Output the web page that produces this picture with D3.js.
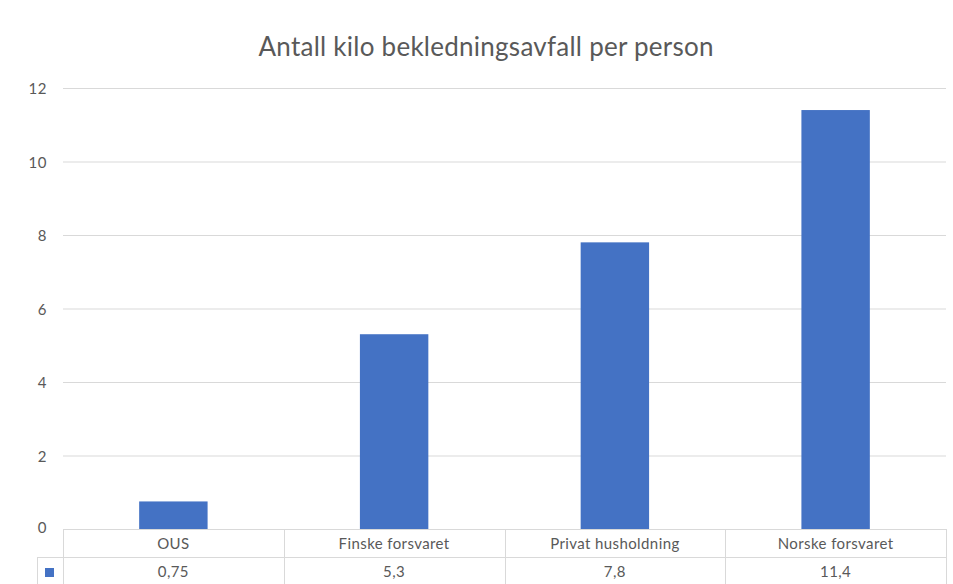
<!DOCTYPE html>
<html>
<head>
<meta charset="utf-8">
<script src="https://cdn.jsdelivr.net/npm/d3@7"></script>
<style>
  body { margin: 0; background: #fff; }
  svg text { font-family: Lato, "Open Sans", sans-serif; fill: #595959; }
</style>
</head>
<body>
<div id="chart"></div>
<script>
const categories = ["OUS", "Finske forsvaret", "Privat husholdning", "Norske forsvaret"];
const values = [0.75, 5.3, 7.8, 11.4];
const valueLabels = ["0,75", "5,3", "7,8", "11,4"];
const yTicks = [0, 2, 4, 6, 8, 10, 12];
const title = "Antall kilo bekledningsavfall per person";

const width = 953, height = 584;
const plot = { left: 63, right: 946, top: 88, bottom: 529 };
const rowH = 28;

const svg = d3.select("#chart")
    .append("svg")
    .attr("width", width)
    .attr("height", height);

svg.append("text")
    .attr("x", 486)
    .attr("y", 46)
    .attr("text-anchor", "middle")
    .attr("dominant-baseline", "central")
    .attr("textLength", 455)
    .style("font-size", "26px")
    .text(title);

const x = d3.scaleBand()
    .domain(categories)
    .range([plot.left, plot.right])
    .paddingInner(0.69)
    .paddingOuter(0.345);

const col = d3.scaleBand()
    .domain(categories)
    .range([plot.left, plot.right]);

const y = d3.scaleLinear()
    .domain([0, 12])
    .range([plot.bottom, plot.top]);

// gridlines
svg.append("g")
    .selectAll("line")
    .data(yTicks.filter(d => d > 0))
    .join("line")
    .attr("x1", plot.left)
    .attr("x2", plot.right)
    .attr("y1", d => y(d) + 0.5)
    .attr("y2", d => y(d) + 0.5)
    .attr("stroke", "#d9d9d9")
    .attr("stroke-width", 1);

// y tick labels
svg.append("g")
    .selectAll("text")
    .data(yTicks)
    .join("text")
    .attr("x", 47)
    .attr("y", d => y(d) - (d === 0 ? 2 : 0))
    .attr("text-anchor", "end")
    .attr("dominant-baseline", "central")
    .style("font-size", "15px")
    .style("letter-spacing", "0.5px")
    .text(d => d);

// bars
svg.append("g")
    .selectAll("rect")
    .data(values)
    .join("rect")
    .attr("x", (d, i) => x(categories[i]))
    .attr("width", x.bandwidth())
    .attr("y", d => y(d))
    .attr("height", d => y(0) - y(d))
    .attr("fill", "#4472c4");

// data table
const table = svg.append("g")
    .attr("stroke", "#d9d9d9")
    .attr("stroke-width", 1)
    .attr("fill", "none");

table.append("line")
    .attr("x1", plot.left).attr("x2", plot.right)
    .attr("y1", plot.bottom + 0.5).attr("y2", plot.bottom + 0.5);
table.append("line")
    .attr("x1", 37).attr("x2", plot.right)
    .attr("y1", plot.bottom + rowH + 0.5).attr("y2", plot.bottom + rowH + 0.5);
table.append("line")
    .attr("x1", 37.5).attr("x2", 37.5)
    .attr("y1", plot.bottom + rowH).attr("y2", height);

const seps = categories.map(c => col(c)).concat([plot.right]);
table.selectAll("line.sep")
    .data(seps)
    .join("line")
    .attr("class", "sep")
    .attr("x1", d => Math.round(d) + 0.5)
    .attr("x2", d => Math.round(d) + 0.5)
    .attr("y1", plot.bottom)
    .attr("y2", height);

svg.append("g")
    .selectAll("text")
    .data(categories)
    .join("text")
    .attr("x", d => col(d) + col.bandwidth() / 2)
    .attr("y", plot.bottom + rowH / 2)
    .attr("text-anchor", "middle")
    .attr("dominant-baseline", "central")
    .style("font-size", "15px")
    .style("letter-spacing", "0.4px")
    .text(d => d);

svg.append("g")
    .selectAll("text")
    .data(valueLabels)
    .join("text")
    .attr("x", (d, i) => col(categories[i]) + col.bandwidth() / 2)
    .attr("y", plot.bottom + rowH + 14)
    .attr("text-anchor", "middle")
    .attr("dominant-baseline", "central")
    .style("font-size", "15px")
    .style("letter-spacing", "0.4px")
    .text(d => d);

// legend key
svg.append("rect")
    .attr("x", 45)
    .attr("y", 568)
    .attr("width", 9)
    .attr("height", 9)
    .attr("fill", "#4472c4");
</script>
</body>
</html>
